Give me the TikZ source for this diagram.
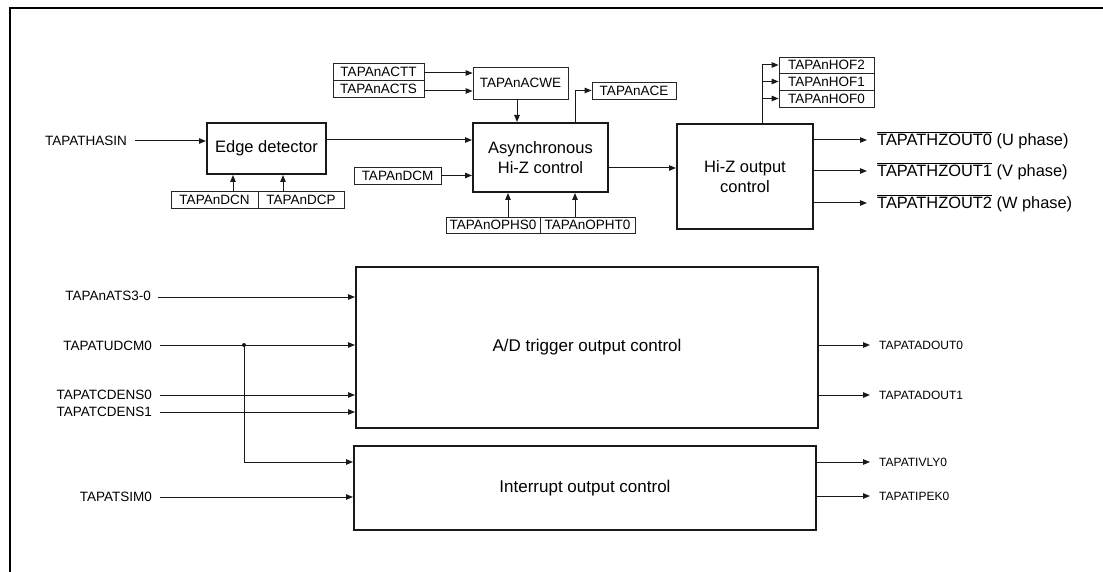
\documentclass[tikz,border=0pt]{standalone}
\usepackage{fontspec}
\setmainfont{Liberation Sans}
\usetikzlibrary{arrows.meta}
\begin{document}
\begin{tikzpicture}[x=1pt,y=-1pt,
  blk/.style={draw=black!90, line width=2pt, inner sep=0pt, align=center, font=\fontsize{16.5}{20}\selectfont},
  bigblk/.style={blk, font=\fontsize{17}{20}\selectfont},
  sbox/.style={draw=black!85, line width=0.8pt, inner sep=0pt, font=\fontsize{13.5}{15}\selectfont},
  sig/.style={inner sep=0pt, font=\fontsize{13.5}{15}\selectfont},
  sigs/.style={inner sep=0pt, font=\fontsize{12}{14}\selectfont},
  sigb/.style={inner sep=0pt, font=\fontsize{16.4}{19}\selectfont},
  conn/.style={draw=black!90, line width=1pt, -{Triangle[length=7pt,width=5.5pt]}},
  wire/.style={draw=black!90, line width=1pt}]
\useasboundingbox (0,0) rectangle (1103,572);
% outer frame
\draw[line width=2.5pt] (10,573) -- (10,8) -- (1104,8);

% main blocks
\node[blk, minimum width=119, minimum height=51] (ed) at (266.5,148.5) {Edge detector};
\node[blk, minimum width=135, minimum height=69] (async) at (540.5,157.5) {Asynchronous\\Hi-Z control};
\node[blk, minimum width=136, minimum height=105] (hiz) at (745,176.5) {Hi-Z output\\control};
\node[bigblk, minimum width=462, minimum height=161] (ad) at (587,347.5) {A/D trigger output control};
\node[bigblk, minimum width=462, minimum height=84] (intr) at (585,488) {Interrupt output control};

% small boxes
\node[sbox, minimum width=87, minimum height=17] (dcn) at (214.5,199.5) {TAPAnDCN};
\node[sbox, minimum width=86, minimum height=17] (dcp) at (301,199.5) {TAPAnDCP};
\node[sbox, minimum width=91, minimum height=17] (actt) at (378.5,71.5) {TAPAnACTT};
\node[sbox, minimum width=91, minimum height=17] (acts) at (378.5,88.5) {TAPAnACTS};
\node[sbox, minimum width=95, minimum height=32] (acwe) at (520.5,83) {TAPAnACWE};
\node[sbox, minimum width=84, minimum height=17] (ace) at (634,90.5) {TAPAnACE};
\node[sbox, minimum width=87, minimum height=17] (dcm) at (397.5,175.5) {TAPAnDCM};
\node[sbox, minimum width=94, minimum height=16] (ophs) at (493,225) {TAPAnOPHS0};
\node[sbox, minimum width=95, minimum height=16] (opht) at (587.5,225) {TAPAnOPHT0};
\node[sbox, minimum width=95, minimum height=16] (hof2) at (826.5,65) {TAPAnHOF2};
\node[sbox, minimum width=95, minimum height=17] (hof1) at (826.5,81.5) {TAPAnHOF1};
\node[sbox, minimum width=95, minimum height=17] (hof0) at (826.5,98.5) {TAPAnHOF0};

% input labels
\node[sig, anchor=east] (thasin) at (127,141) {TAPATHASIN};
\node[sig, anchor=east] (ats) at (151,296) {TAPAnATS3-0};
\node[sig, anchor=east] (udcm) at (152,345.5) {TAPATUDCM0};
\node[sig, anchor=east] (cd0) at (152,395) {TAPATCDENS0};
\node[sig, anchor=east] (cd1) at (152,412) {TAPATCDENS1};
\node[sig, anchor=east] (tsim) at (152,497) {TAPATSIM0};

% output labels
\node[sigb, anchor=west] (hz0) at (877,140) {$\overline{\mbox{TAPATHZOUT0}}$ (U phase)};
\node[sigb, anchor=west] (hz1) at (877,171) {$\overline{\mbox{TAPATHZOUT1}}$ (V phase)};
\node[sigb, anchor=west] (hz2) at (877,203) {$\overline{\mbox{TAPATHZOUT2}}$ (W phase)};
\node[sigs, anchor=west] (ado0) at (879,345) {TAPATADOUT0};
\node[sigs, anchor=west] (ado1) at (879,395) {TAPATADOUT1};
\node[sigs, anchor=west] (ivly) at (879,462) {TAPATIVLY0};
\node[sigs, anchor=west] (ipek) at (879,496) {TAPATIPEK0};

% top connectors
\draw[conn] ([xshift=8pt]thasin.east) -- (ed.west |- thasin.east);
\draw[conn] (ed.east |- 0,140) -- (async.west |- 0,140);
\draw[conn] (dcn.north -| 233,0) -- (ed.south -| 233,0);
\draw[conn] (dcp.north -| 283,0) -- (ed.south -| 283,0);
\draw[conn] (actt.east |- 0,73) -- (acwe.west |- 0,73);
\draw[conn] (acts.east |- 0,91) -- (acwe.west |- 0,91);
\draw[conn] (acwe.south -| 517,0) -- (async.north -| 517,0);
\draw[conn] (async.north -| 575,0) |- (ace.west);
\draw[conn] (dcm.east) -- (async.west |- dcm.east);
\draw[conn] (ophs.north -| 508,0) -- (async.south -| 508,0);
\draw[conn] (opht.north -| 575,0) -- (async.south -| 575,0);
\draw[conn] (async.east |- 0,168) -- (hiz.west |- 0,168);
\draw[conn] (hiz.north -| 762,0) |- (hof2.west);
\draw[conn] (hof1.west -| 762,0) -- (hof1.west);
\draw[conn] (hof0.west -| 762,0) -- (hof0.west);
\draw[conn] (hiz.east |- hz0.west) -- ([xshift=-10pt]hz0.west);
\draw[conn] (hiz.east |- hz1.west) -- ([xshift=-10pt]hz1.west);
\draw[conn] (hiz.east |- hz2.west) -- ([xshift=-10pt]hz2.west);

% bottom connectors
\draw[conn] ([xshift=7pt]ats.east |- 0,297) -- (ad.west |- 0,297);
\coordinate (udst) at (160,345);
\coordinate (j) at (244,345);
\draw[conn] (udst) -- (ad.west |- j);
\fill[black!90] (j) circle (2pt);
\draw[conn] (j) |- (intr.west |- 0,462);
\draw[conn] ([xshift=8pt]cd0.east) -- (ad.west |- cd0.east);
\draw[conn] ([xshift=8pt]cd1.east) -- (ad.west |- cd1.east);
\draw[conn] ([xshift=8pt]tsim.east) -- (intr.west |- tsim.east);
\draw[conn] (ad.east |- ado0.west) -- ([xshift=-9pt]ado0.west);
\draw[conn] (ad.east |- ado1.west) -- ([xshift=-9pt]ado1.west);
\draw[conn] (intr.east |- ivly.west) -- ([xshift=-9pt]ivly.west);
\draw[conn] (intr.east |- ipek.west) -- ([xshift=-9pt]ipek.west);
\end{tikzpicture}
\end{document}
